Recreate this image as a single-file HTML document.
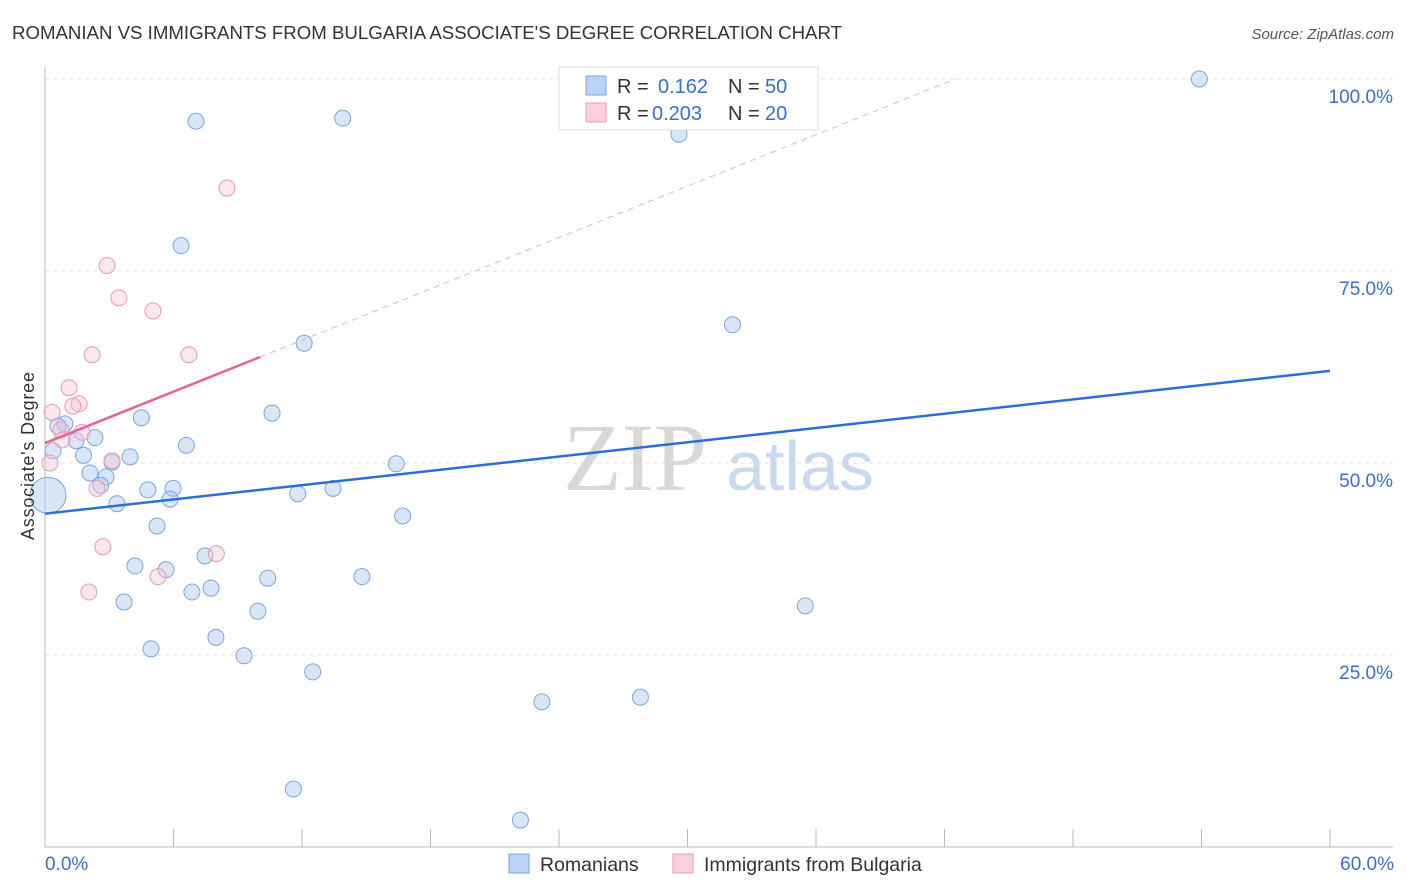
<!DOCTYPE html>
<html><head><meta charset="utf-8"><style>
body{margin:0;background:#fff;font-family:"Liberation Sans",sans-serif;}
svg{display:block}
</style></head><body>
<svg id="chart" width="1406" height="892" xmlns="http://www.w3.org/2000/svg">
<text x="12" y="39" font-size="18" fill="#333" textLength="830" lengthAdjust="spacingAndGlyphs">ROMANIAN VS IMMIGRANTS FROM BULGARIA ASSOCIATE'S DEGREE CORRELATION CHART</text>
<text x="1394" y="39" font-size="15" fill="#555" font-style="italic" text-anchor="end">Source: ZipAtlas.com</text>
<g id="grid"></g>
<text x="635" y="490" font-size="96" fill="#d8d8d8" font-family="Liberation Serif" text-anchor="middle">ZIP</text>
<text x="800" y="490" font-size="70" fill="#c9d9ef" text-anchor="middle">atlas</text>
<g id="marks"></g>
<text transform="translate(34,456) rotate(-90)" font-size="18" fill="#333" text-anchor="middle" textLength="168">Associate's Degree</text>
<text x="45" y="870" font-size="19" fill="#3a70c8">0.0%</text>
<text x="1394" y="870" font-size="19" fill="#3a70c8" text-anchor="end">60.0%</text>
<g>
<rect x="559" y="67" width="259" height="63" fill="#fff" stroke="#ddd"/>
<rect x="586" y="76" width="20" height="19" fill="#b9d3f5" stroke="#7aa6e0"/>
<text x="617" y="93" font-size="20" fill="#333">R = <tspan x="658" fill="#3a70c8">0.162</tspan><tspan x="728">N = </tspan><tspan x="765" fill="#3a70c8">50</tspan></text>
<rect x="586" y="103" width="20" height="19" fill="#fbd0dc" stroke="#ec9ab2"/>
<text x="617" y="120" font-size="20" fill="#333">R = <tspan x="652" fill="#3a70c8">0.203</tspan><tspan x="728">N = </tspan><tspan x="765" fill="#3a70c8">20</tspan></text>
</g>
<g>
<rect x="509" y="854" width="20" height="19" fill="#b9d3f5" stroke="#7aa6e0"/>
<text x="540" y="871" font-size="19.5" fill="#333">Romanians</text>
<rect x="673" y="854" width="20" height="19" fill="#fbd0dc" stroke="#ec9ab2"/>
<text x="704" y="871" font-size="19.5" fill="#333">Immigrants from Bulgaria</text>
</g>
</svg>
<script>
const yTicks=[25,50,75,100];
const yTickLabels=["25.0%","50.0%","75.0%","100.0%"];
const xTicks=[0,6,12,18,24,30,36,42,48,54,60];
const blueX=[53.9,7.05,13.9,29.6,6.35,32.1,12.1,10.6,4.5,0.93,0.6,2.33,1.45,6.6,1.8,0.37,3.97,3.13,16.4,2.1,2.85,2.6,4.8,5.98,13.45,11.8,5.84,3.36,16.7,5.23,7.47,4.2,5.65,10.4,14.8,7.75,6.86,3.69,35.5,9.94,7.98,4.95,9.29,12.5,27.8,23.2,11.6,22.2,0.14];
const blueY=[100,94.5,94.9,92.8,78.3,68.0,65.6,56.5,55.9,55.1,54.8,53.3,52.9,52.3,51.0,51.6,50.8,50.1,49.9,48.7,48.2,47.1,46.5,46.7,46.7,46.0,45.3,44.7,43.1,41.8,37.9,36.6,36.1,35.0,35.2,33.7,33.2,31.9,31.4,30.7,27.3,25.8,24.9,22.8,19.5,18.9,7.55,3.5,45.8];
const blueR=[8,8,8,8,8,8,8,8,8,8,8,8,8,8,8,8,8,8,8,8,8,8,8,8,8,8,8,8,8,8,8,8,8,8,8,8,8,8,8,8,8,8,8,8,8,8,8,8,18];
const pinkX=[8.5,2.9,3.45,5.04,2.2,6.72,1.12,1.59,1.3,0.33,0.75,1.73,0.8,0.23,3.13,2.43,2.7,8.0,5.28,2.05];
const pinkY=[85.8,75.7,71.5,69.8,64.1,64.1,59.8,57.7,57.4,56.6,54.3,54.0,53.0,50.0,50.3,46.7,39.1,38.2,35.2,33.2];
const blueTrend=[43.4,62.0];
const pinkTrend=[52.6,1.115];
const pinkSolidEnd=10.04;
const X=v=>45+v*(1285/60), Y=v=>847-v*7.68;
const NS="http://www.w3.org/2000/svg";
function mk(p,t,a){const e=document.createElementNS(NS,t);for(const k in a)e.setAttribute(k,a[k]);p.appendChild(e);return e;}
const g=document.getElementById('grid'), m=document.getElementById('marks');
yTicks.forEach((t,i)=>{
 const l=mk(g,'line',{x1:45,x2:1393,y1:Y(t),y2:Y(t),stroke:'#e0e0e0','stroke-dasharray':'4,4'});
 
 
 const tx=mk(g,'text',{x:1393,y:Y(t)+24,'font-size':19,fill:'#3a70c8','text-anchor':'end'});
 tx.textContent=yTickLabels[i];
 
 
});
const ax=mk(g,'line',{x1:45,x2:45,y1:67,y2:847,stroke:'#bbb'});


const bx=mk(g,'line',{x1:45,x2:1393,y1:847,y2:847,stroke:'#bbb'});


xTicks.forEach(t=>{
 const l=mk(g,'line',{x1:X(t),x2:X(t),y1:829,y2:847,stroke:'#bbb'});
 
 
});
blueX.forEach((v,i)=>{
 const c=mk(m,'circle',{cx:X(v),cy:Y(blueY[i]),r:blueR[i],fill:'rgba(170,200,240,0.45)',stroke:'#7aa6e0','stroke-width':1});
 
 
});
pinkX.forEach((v,i)=>{
 const c=mk(m,'circle',{cx:X(v),cy:Y(pinkY[i]),r:8,fill:'rgba(250,195,212,0.4)',stroke:'#ec9ab2','stroke-width':1});
 
 
});
const bt=mk(m,'line',{x1:X(0),y1:Y(blueTrend[0]),x2:X(60),y2:Y(blueTrend[1]),stroke:'#2a6fd6','stroke-width':2.5});


const pEnd=(100-pinkTrend[0])/pinkTrend[1];
const pd=mk(m,'line',{x1:X(pinkSolidEnd),y1:Y(pinkTrend[0]+pinkTrend[1]*pinkSolidEnd),x2:X(pEnd),y2:Y(100),stroke:'#f0b0c4','stroke-width':1,'stroke-dasharray':'6,5'});


const ps=mk(m,'line',{x1:X(0),y1:Y(pinkTrend[0]),x2:X(pinkSolidEnd),y2:Y(pinkTrend[0]+pinkTrend[1]*pinkSolidEnd),stroke:'#e8628e','stroke-width':2.5});


</script>
</body></html>
